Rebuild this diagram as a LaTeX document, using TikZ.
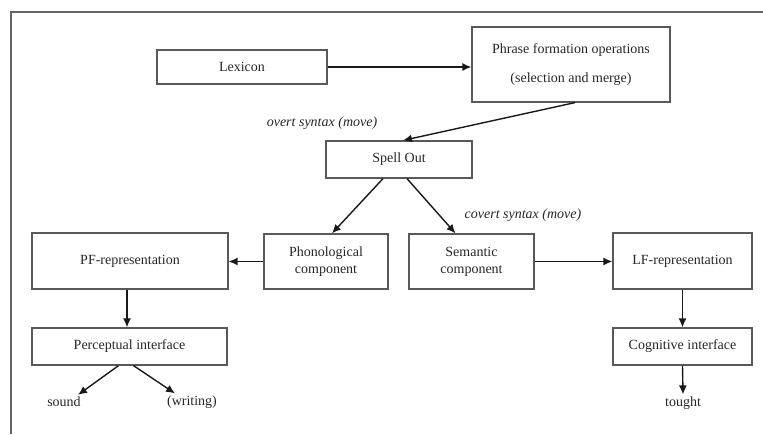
\documentclass[tikz,border=0pt]{standalone}
\usepackage{fontspec}
\setmainfont{Liberation Serif}
\usetikzlibrary{arrows.meta}
\begin{document}
\begin{tikzpicture}[x=1pt,y=-1pt,
  txt/.style={font=\fontsize{14}{17}\selectfont, text=black!85},
  box/.style={txt, draw=black!65, line width=1.2pt, inner sep=0pt, align=center},
  arr/.style={draw=black!90, line width=1.4pt, -{Latex[length=9pt,width=8pt]}},
  lbl/.style={txt, inner sep=2pt},
  ilbl/.style={lbl, font=\fontsize{14}{17}\selectfont\itshape}]
\useasboundingbox (0,0) rectangle (763,434);
\draw[black!60, line width=1.3pt] (763,12) -- (11,12) -- (11,434);

\node[box, minimum width=170pt, minimum height=34pt] (lex) at (242,67) {Lexicon};
\node[box, minimum width=198pt, minimum height=75pt, font=\fontsize{14}{29}\selectfont] (phr) at (571,64.5) {Phrase formation operations\\(selection and merge)};
\node[box, minimum width=146pt, minimum height=37pt] (spell) at (399,159.5) {Spell Out};
\node[box, minimum width=124pt, minimum height=55pt] (phono) at (326,261.5) {Phonological\\component};
\node[box, minimum width=125pt, minimum height=55pt] (sem) at (471.5,261.5) {Semantic\\component};
\node[box, minimum width=196pt, minimum height=56pt] (pf) at (130,261) {PF-representation};
\node[box, minimum width=139pt, minimum height=56pt] (lf) at (682.5,261) {LF-representation};
\node[box, minimum width=195pt, minimum height=37pt] (perc) at (129.5,346.5) {Perceptual interface};
\node[box, minimum width=139pt, minimum height=37pt] (cog) at (682.5,346.5) {Cognitive interface};

\node[ilbl] (overt) at (322,123) {overt syntax (move)};
\node[ilbl] (covert) at (523,215) {covert syntax (move)};
\node[lbl] (sound) at (64,402) {sound};
\node[lbl] (writing) at (192,402) {(writing)};
\node[lbl] (tought) at (683,403) {tought};

\draw[arr] (lex.east) -- (lex.east -| phr.west);
\draw[arr] ([xshift=4pt]phr.south) -- ([xshift=4pt]spell.north);
\draw[arr] ([xshift=-16pt]spell.south) -- ([xshift=6pt]phono.north);
\draw[arr] ([xshift=8pt]spell.south) -- ([xshift=-16pt]sem.north);
\draw[arr] (phono.west) -- (phono.west -| pf.east);
\draw[arr] (sem.east) -- (sem.east -| lf.west);
\draw[arr] ([xshift=-3pt]pf.south) -- ([xshift=-3pt]pf.south |- perc.north);
\draw[arr] (lf.south) -- (cog.north);
\draw[arr] ([xshift=-11pt]perc.south) -- ([xshift=14pt]sound.north);
\draw[arr] ([xshift=4pt]perc.south) -- ([xshift=-17pt]writing.north);
\draw[arr] (cog.south) -- (tought.north);
\end{tikzpicture}
\end{document}
